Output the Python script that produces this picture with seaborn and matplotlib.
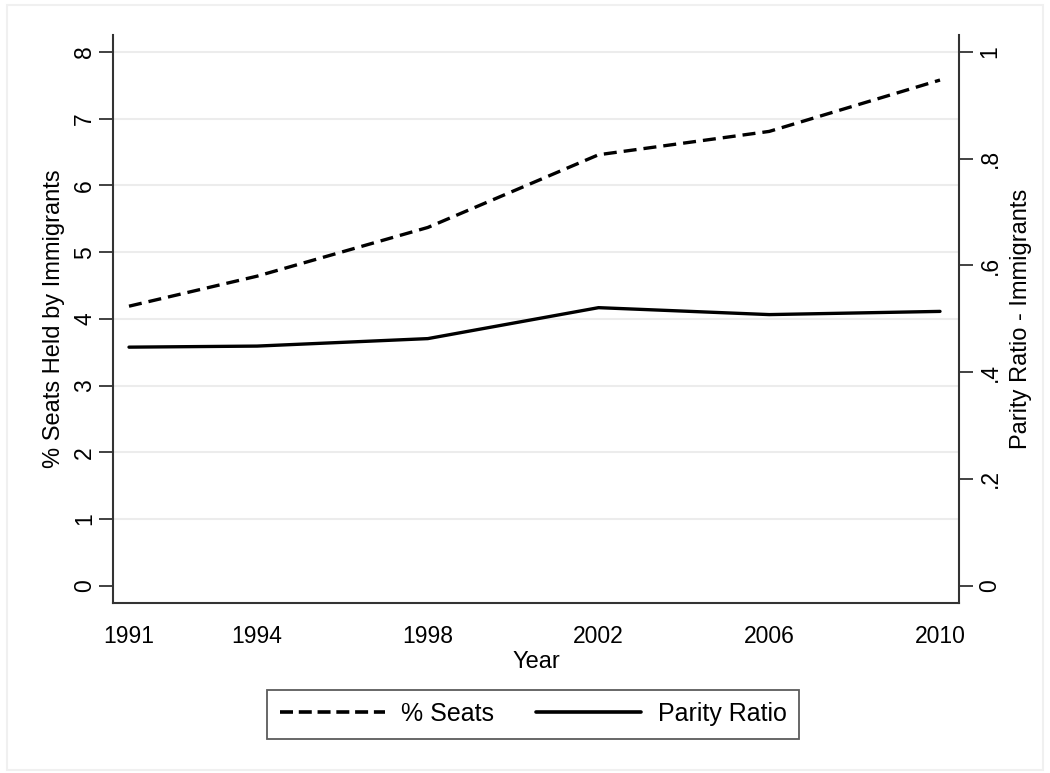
import numpy as np
import pandas as pd
import matplotlib
matplotlib.use('Agg')
import matplotlib.pyplot as plt
import seaborn as sns
from matplotlib.lines import Line2D
from matplotlib.patches import Rectangle

years = [1991, 1994, 1998, 2002, 2006, 2010]
pct_seats = [4.19, 4.64, 5.37, 6.46, 6.81, 7.58]
parity_ratio = [0.447, 0.449, 0.463, 0.521, 0.508, 0.514]

left_ticks = [0, 1, 2, 3, 4, 5, 6, 7, 8]
right_ticks = [0, 0.2, 0.4, 0.6, 0.8, 1.0]
right_labels = ['0', '.2', '.4', '.6', '.8', '1']
xticks = [1991, 1994, 1998, 2002, 2006, 2010]

df = pd.DataFrame({'year': years, 'seats': pct_seats, 'parity': parity_ratio})

sns.set_style('white')
plt.rcParams['font.family'] = ['Liberation Sans', 'DejaVu Sans']
plt.rcParams['text.color'] = 'black'
plt.rcParams['axes.labelcolor'] = 'black'
plt.rcParams['xtick.color'] = '#333333'
plt.rcParams['ytick.color'] = '#333333'
plt.rcParams['xtick.labelcolor'] = 'black'
plt.rcParams['ytick.labelcolor'] = 'black'

tick_fs = 16.5
lab_fs = 17
leg_fs = 18
dash = (0, (3.9, 2.1))

fig = plt.figure(figsize=(10.5, 7.73), dpi=100)
fig.patches.append(Rectangle((0.007, 0.004), 0.986, 0.989, transform=fig.transFigure,
                             fill=False, edgecolor='#f0f0f0', lw=1.5))
ax = fig.add_axes([113 / 1050, 1 - 603 / 773, 846 / 1050, 568 / 773])
ax2 = ax.twinx()

sns.lineplot(data=df, x='year', y='seats', ax=ax, color='black', lw=2.4, linestyle=dash)
sns.lineplot(data=df, x='year', y='parity', ax=ax2, color='black', lw=2.4)

ax.set_xlim(1990.625, 2010.445)
ax.set_ylim(-0.259, 8.255)
ax2.set_ylim(-0.259 / 8, 8.255 / 8)

ax.set_xticks(xticks)
ax.set_xticklabels([str(y) for y in xticks], fontsize=tick_fs)
ax.set_yticks(left_ticks)
ax.set_yticklabels([str(t) for t in left_ticks], fontsize=tick_fs, rotation=90, va='center')
ax2.set_yticks(right_ticks)
ax2.set_yticklabels(right_labels, fontsize=tick_fs, rotation=90, va='center')

ax.yaxis.grid(True, color='#ececec', lw=1.5)
ax.yaxis.get_gridlines()[0].set_visible(False)
ax.set_axisbelow(True)

for a in (ax, ax2):
    a.tick_params(axis='both', which='major', direction='out', length=10, width=1.3,
                  color='#333333', pad=4)
    for side in ('left', 'right', 'bottom'):
        a.spines[side].set_color('#333333')
        a.spines[side].set_linewidth(1.5)
    a.spines['top'].set_visible(False)
ax.spines['right'].set_visible(False)
ax2.spines['left'].set_visible(False)
ax2.spines['bottom'].set_visible(False)
ax.tick_params(axis='x', pad=6)
ax.tick_params(axis='y', pad=2)

ax.set_xlabel('Year', fontsize=lab_fs, labelpad=2)
ax.set_ylabel('% Seats Held by Immigrants', fontsize=lab_fs, labelpad=6)
ax2.set_ylabel('Parity Ratio - Immigrants', fontsize=lab_fs, labelpad=6)

handles = [Line2D([], [], color='black', lw=2.6, linestyle=(0, (3.6, 1.6))),
           Line2D([], [], color='black', lw=2.6)]
leg = fig.legend(handles, ['% Seats', 'Parity Ratio'], loc='center', ncol=2,
                 bbox_to_anchor=(533 / 1050, 1 - 714 / 773), fontsize=leg_fs,
                 frameon=True, fancybox=False, edgecolor='#333333',
                 handlelength=4.2, columnspacing=1.7, handletextpad=0.65,
                 borderpad=0.5, borderaxespad=0)
leg.get_frame().set_linewidth(1.3)

fig.savefig('out.png', dpi=100, facecolor='white')
